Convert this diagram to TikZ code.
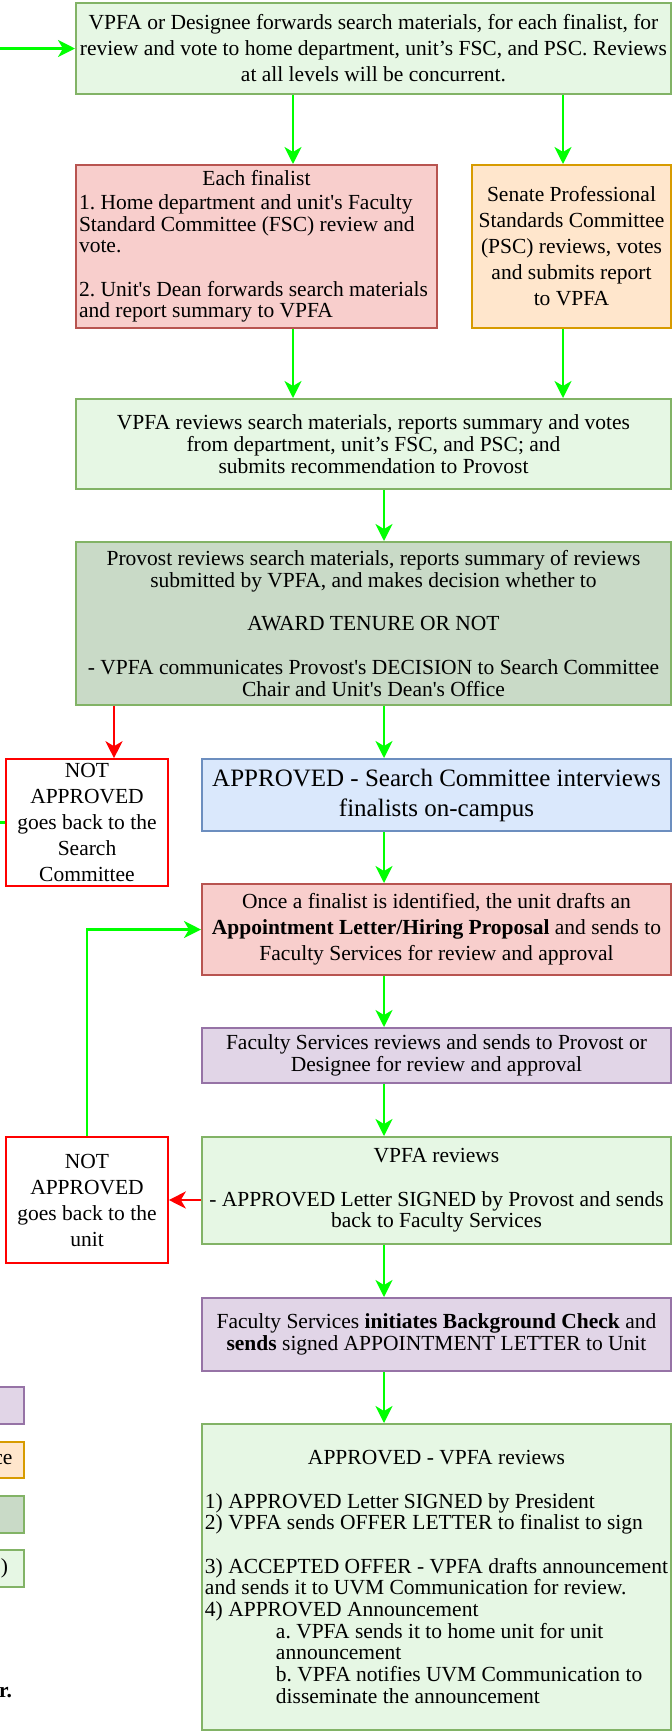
\documentclass[tikz,border=0pt]{standalone}
\usepackage{fontspec}
\setmainfont{Liberation Serif}
\usetikzlibrary{positioning,calc,shapes,arrows.meta}
\definecolor{greenline}{HTML}{82B366}
\definecolor{greenfill}{HTML}{E6F7E4}
\definecolor{provfill}{HTML}{C9DAC7}
\definecolor{redline}{HTML}{B85450}
\definecolor{redfill}{HTML}{F8CECC}
\definecolor{orline}{HTML}{D79B00}
\definecolor{orfill}{HTML}{FFE6CC}
\definecolor{blueline}{HTML}{6C8EBF}
\definecolor{bluefill}{HTML}{DAE8FC}
\definecolor{purline}{HTML}{9673A6}
\definecolor{purfill}{HTML}{E1D5E7}
\definecolor{arrgreen}{HTML}{00FF00}
\definecolor{arrred}{HTML}{FF0000}
\newcommand{\sq}{\textquotesingle}
\frenchspacing
\tikzstyle{box}=[rectangle, line width=2pt, inner sep=0pt, align=center, font=\fontsize{21.5}{21.7}\selectfont]
\tikzstyle{loose}=[font=\fontsize{21.5}{26}\selectfont]
\tikzstyle{gbox}=[box, draw=greenline, fill=greenfill]
\tikzstyle{pbox}=[box, draw=greenline, fill=provfill]
\tikzstyle{rbox}=[box, draw=redline, fill=redfill]
\tikzstyle{obox}=[box, draw=orline, fill=orfill]
\tikzstyle{bbox}=[box, draw=blueline, fill=bluefill]
\tikzstyle{ubox}=[box, draw=purline, fill=purfill]
\tikzstyle{nbox}=[box, draw=arrred, fill=white, line width=1.6pt]
\tikzstyle{garrow}=[-{Stealth[length=17pt,width=17pt,inset=5pt]}, draw=arrgreen, line width=2.5pt]
\tikzstyle{rarrow}=[-{Stealth[length=17pt,width=17pt,inset=5pt]}, draw=arrred, line width=2.5pt]
\tikzstyle{gline}=[draw=arrgreen, line width=2.5pt]

\begin{document}
\begin{tikzpicture}[x=1pt, y=-1pt]
  \useasboundingbox (0,0) rectangle (672,1733);

  \node [gbox, loose, minimum width=595, minimum height=91] at (373.5, 48.5) (fwd)
    {VPFA or Designee forwards search materials, for each finalist, for\\
     review and vote to home department, unit’s FSC, and PSC. Reviews\\
     at all levels will be concurrent.};
  \node [rbox, minimum width=361, minimum height=163, align=left] at (256.5, 246.5) (fin)
    {\makebox[355pt]{Each finalist}\\[2pt]
     1. Home department and unit\sq s Faculty\\
     Standard Committee (FSC) review and\\
     vote.\\[21.7pt]
     2. Unit\sq s Dean forwards search materials\\
     and report summary to VPFA};
  \node [obox, loose, minimum width=199, minimum height=163] at (571.5, 246.5) (psc)
    {Senate Professional\\ Standards Committee\\ (PSC) reviews, votes\\ and submits report\\ to VPFA};
  \node [gbox, minimum width=595, minimum height=90] at (373.5, 444) (rec)
    {VPFA reviews search materials, reports summary and votes\\
     from department, unit’s FSC, and PSC; and\\
     submits recommendation to Provost};
  \node [pbox, minimum width=595, minimum height=163] at (373.5, 623.5) (dec)
    {Provost reviews search materials, reports summary of reviews\\
     submitted by VPFA, and makes decision whether to\\[21.7pt]
     AWARD TENURE OR NOT\\[21.7pt]
     - VPFA communicates Provost\sq s DECISION to Search Committee\\
     Chair and Unit\sq s Dean\sq s Office};

  \node [nbox, loose, minimum width=162, minimum height=127] at (87, 822.5) (na1)
    {NOT\\ APPROVED\\ goes back to the\\ Search\\ Committee};
  \node [bbox, font=\fontsize{25}{30}\selectfont, minimum width=469, minimum height=72] at (436.5, 795) (intv)
    {APPROVED - Search Committee interviews\\ finalists on-campus};
  \node [rbox, loose, minimum width=469, minimum height=91] at (436.5, 929.5) (draft)
    {Once a finalist is identified, the unit drafts an\\
     \textbf{Appointment Letter/Hiring Proposal} and sends to\\
     Faculty Services for review and approval};
  \node [ubox, minimum width=469, minimum height=55] at (436.5, 1055.5) (fsrev)
    {Faculty Services reviews and sends to Provost or\\ Designee for review and approval};
  \node [gbox, minimum width=469, minimum height=107] at (436.5, 1190.5) (sign)
    {VPFA reviews\\[21.7pt]
     - APPROVED Letter SIGNED by Provost and sends\\ back to Faculty Services};
  \node [nbox, loose, minimum width=162, minimum height=126] at (87, 1200) (na2)
    {NOT\\ APPROVED\\ goes back to the\\ unit};
  \node [ubox, minimum width=469, minimum height=73] at (436.5, 1334.5) (bgc)
    {Faculty Services \textbf{initiates Background Check} and\\
     \textbf{sends} signed APPOINTMENT LETTER to Unit};
  \node [gbox, minimum width=469, minimum height=306, align=left] at (436.5, 1577) (offer)
    {\makebox[463pt]{APPROVED - VPFA reviews}\\[21.7pt]
     1) APPROVED Letter SIGNED by President\\
     2) VPFA sends OFFER LETTER to finalist to sign\\[21.7pt]
     3) ACCEPTED OFFER - VPFA drafts announcement\\
     and sends it to UVM Communication for review.\\
     4) APPROVED Announcement\\
     \hspace*{71pt}a. VPFA sends it to home unit for unit\\
     \hspace*{71pt}announcement\\
     \hspace*{71pt}b. VPFA notifies UVM Communication to\\
     \hspace*{71pt}disseminate the announcement};

  \node [ubox, minimum width=88, minimum height=37] at (-20, 1405.5) (keyfs) {};
  \node [obox, minimum width=88, minimum height=36] at (-20, 1460) (keypsc) {};
  \node [pbox, minimum width=88, minimum height=37] at (-20, 1514.5) (keyprov) {};
  \node [gbox, minimum width=88, minimum height=37] at (-20, 1568.5) (keyvpfa) {};
  \node [box, anchor=east] at (13.5, 1460) (keypsctext) {ce};
  \node [box, anchor=east] at (9, 1568.5) (keyvpfatext) {)};
  \node [box, anchor=east, font=\fontsize{21.5}{26}\selectfont\bfseries] at (13, 1693) (note) {r.};

  \coordinate (c1) at (293, 0);
  \coordinate (c2) at (563, 0);
  \coordinate (c3) at (384, 0);
  \coordinate (c4) at (114, 0);
  \coordinate (in) at (-10, 48.5);
  \coordinate (out) at (-10, 822.5);

  \draw [garrow] (in) -- (fwd.west);
  \draw [garrow] (fwd.south -| c1) -- (fin.north -| c1);
  \draw [garrow] (fwd.south -| c2) -- (psc.north -| c2);
  \draw [garrow] (fin.south -| c1) -- (rec.north -| c1);
  \draw [garrow] (psc.south -| c2) -- (rec.north -| c2);
  \draw [garrow] (rec.south -| c3) -- (dec.north -| c3);

  \draw [rarrow] (dec.south -| c4) -- (na1.north -| c4);
  \draw [gline] (na1.west) -- (out);
  \draw [garrow] (dec.south -| c3) -- (intv.north -| c3);
  \draw [garrow] (intv.south -| c3) -- (draft.north -| c3);
  \draw [garrow] (draft.south -| c3) -- (fsrev.north -| c3);
  \draw [garrow] (fsrev.south -| c3) -- (sign.north -| c3);

  \draw [rarrow] (sign.west |- na2.east) -- (na2.east);
  \draw [garrow] (na2.north) |- (draft.west);
  \draw [garrow] (sign.south -| c3) -- (bgc.north -| c3);
  \draw [garrow] (bgc.south -| c3) -- (offer.north -| c3);
\end{tikzpicture}
\end{document}
